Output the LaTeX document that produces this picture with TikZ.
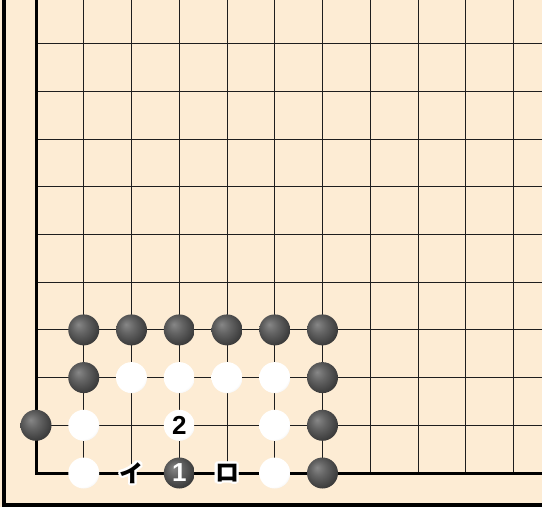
\documentclass[tikz,border=0pt]{standalone}
\usepackage{fontspec}
\setmainfont{Liberation Sans}
\newfontfamily\jp{Noto Sans CJK JP}
\definecolor{board}{RGB}{253,236,212}
\definecolor{gridc}{RGB}{30,30,30}
\definecolor{bs0}{RGB}{135,135,135}
\definecolor{bs1}{RGB}{100,100,100}
\definecolor{bs2}{RGB}{60,60,60}
\definecolor{bs3}{RGB}{20,20,20}
\definecolor{ws1}{RGB}{220,220,220}
\definecolor{ws2}{RGB}{150,150,150}
\pgfdeclareradialshading{bstone}{\pgfpoint{-9bp}{9bp}}{color(0bp)=(bs0); color(12bp)=(bs1); color(28bp)=(bs2); color(42bp)=(bs3); color(50bp)=(bs3)}
\pgfdeclareradialshading{wstone}{\pgfpoint{-8bp}{8bp}}{color(0bp)=(white); color(26bp)=(white); color(38bp)=(ws1); color(50bp)=(ws2)}
\begin{document}
\begin{tikzpicture}[x=1pt,y=-1pt,
  gridline/.style={line width=1pt, draw=gridc},
  edgeline/.style={line width=3pt, draw=black},
  frameline/.style={line width=3.5pt, draw=black},
  stone/.style={circle, minimum size=31pt, inner sep=0pt},
  bst/.style={stone, shading=bstone},
  wst/.style={stone, shading=wstone},
  num/.style={font=\fontsize{26}{26}\selectfont\bfseries, inner sep=0pt},
  kana/.style={font=\jp\bfseries\fontsize{24}{24}\selectfont, inner sep=0pt}]
\useasboundingbox (0,0) rectangle (542,507);
\fill[board] (0,0) rectangle (542,507);
% frame
\draw[frameline] (4,0) -- (4,505) -- (542,505);
% grid
\foreach \i in {1,...,10} \draw[gridline] ({36+\i*47.75},0) -- ({36+\i*47.75},473);
\foreach \j in {1,...,9} \draw[gridline] (36,{473-\j*47.7}) -- (542,{473-\j*47.7});
% board edges
\draw[edgeline] (36,0) -- (36,473) -- (542,473);
% black stones
\foreach \i/\j in {1/3,2/3,3/3,4/3,5/3,6/3,1/2,6/2,0/1,6/1,3/0,6/0}
  \node[bst] (b\i\j) at ({36+\i*47.75},{473-\j*47.7}) {};
% white stones
\foreach \i/\j in {2/2,3/2,4/2,5/2,1/1,3/1,5/1,1/0,5/0}
  \node[wst] (w\i\j) at ({36+\i*47.75},{473-\j*47.7}) {};
% numbers
\node[num, text=white] (n1) at (b30) {1};
\node[num, text=black] (n2) at (w31) {2};
% kana labels
\coordinate (pi) at ({36+2*47.75},473);
\coordinate (pro) at ({36+4*47.75},473);
\node[fill=white, minimum size=15pt, inner sep=0pt] (rofill) at (pro) {};
\foreach \a [count=\k] in {0,22.5,...,337.5} {
  \node[kana, text=white, shift={(\a:2.2)}] (ih\k) at (pi) {イ};
  \node[kana, text=white, shift={(\a:2.2)}] (rh\k) at (pro) {ロ};
}
\node[kana, text=black] (ki) at (pi) {イ};
\node[kana, text=black] (kro) at (pro) {ロ};
\end{tikzpicture}
\end{document}
